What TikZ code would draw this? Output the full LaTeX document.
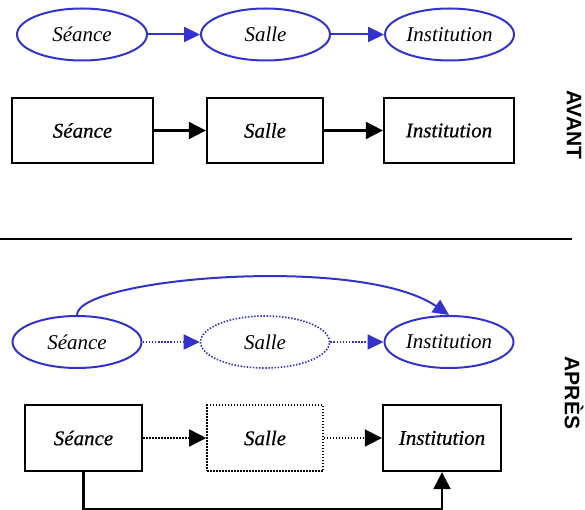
\documentclass[tikz,border=0pt]{standalone}
\usepackage{fontspec}
\setmainfont{Liberation Serif}
\newfontfamily\labfont{Liberation Sans}
\newfontface\rectfont{Liberation Serif Italic}[FakeBold=0.5]
\usetikzlibrary{shapes.geometric,arrows.meta,calc}
\definecolor{eblue}{RGB}{51,51,204}
\tikzset{
  ent/.style={ellipse, draw=eblue, line width=2pt, minimum width=129pt, minimum height=52pt, inner sep=0pt, font=\itshape\fontsize{21}{21}\selectfont},
  entdot/.style={ent, line width=1.6pt, dash pattern=on 1.5pt off 1.6pt},
  tbl/.style={rectangle, draw=black, line width=2.3pt, minimum height=65pt, inner sep=0pt, font=\rectfont\fontsize{21}{21}\selectfont},
  tbldot/.style={tbl, line width=1.6pt, dash pattern=on 1.5pt off 1.5pt},
  barr/.style={draw=eblue, line width=2pt, -{Triangle[length=16pt,width=15pt]}},
  barrdot/.style={barr, line width=1.8pt, dash pattern=on 1.5pt off 1.6pt},
  karr/.style={draw=black, line width=2.1pt, -{Triangle[length=17pt,width=17pt]}},
  karrdot/.style={karr, line width=1.7pt, dash pattern=on 1.5pt off 1.5pt},
  side/.style={font=\labfont\bfseries\fontsize{21}{21}\selectfont, rotate=-90, inner sep=0pt}
}
\begin{document}
\begin{tikzpicture}[x=1pt,y=-1pt]
\useasboundingbox (0,0) rectangle (585,510);
% AVANT
\node[ent, minimum width=130pt] (sE1) at (82,34.5) {Séance};
\node[ent] (lE1) at (265.5,34.5) {Salle};
\node[ent] (iE1) at (449.5,34.5) {Institution};
\draw[barr] (sE1) -- (lE1);
\draw[barr] (lE1) -- (iE1);
\node[tbl, minimum width=141pt] (sR1) at (82.5,130.5) {Séance};
\node[tbl, minimum width=116pt] (lR1) at (265,130.5) {Salle};
\node[tbl, minimum width=130pt] (iR1) at (449,130.5) {Institution};
\draw[karr] (sR1) -- (lR1);
\draw[karr] (lR1) -- (iR1);
\node[side] (avant) at (574,125) {AVANT};
% separator
\coordinate (sepL) at (0,239);
\coordinate (sepR) at (572,239);
\draw[line width=1.4pt] (sepL) -- (sepR);
% APRES
\node[ent] (sE2) at (77,342) {Séance};
\node[entdot] (lE2) at (265,342) {Salle};
\node[ent] (iE2) at (449,342) {Institution};
\draw[barrdot] (sE2) -- (lE2);
\draw[barrdot] (lE2) -- (iE2);
\draw[barr] (sE2.north) .. controls (77,278) and (360,254) .. (iE2.north);
\node[tbl, minimum width=117pt, minimum height=66pt] (sR2) at (83.5,438) {Séance};
\node[tbldot, minimum width=116pt, minimum height=66pt] (lR2) at (265,438) {Salle};
\node[tbl, minimum width=118pt, minimum height=66pt] (iR2) at (442,438) {Institution};
\draw[karrdot] (sR2) -- (lR2);
\draw[karrdot] (lR2) -- (iR2);
\draw[karr] (sR2.south) -- ++(0,37) -| (iR2.south);
\node[side] (apres) at (574,393) {APRÈS};
\end{tikzpicture}
\end{document}
